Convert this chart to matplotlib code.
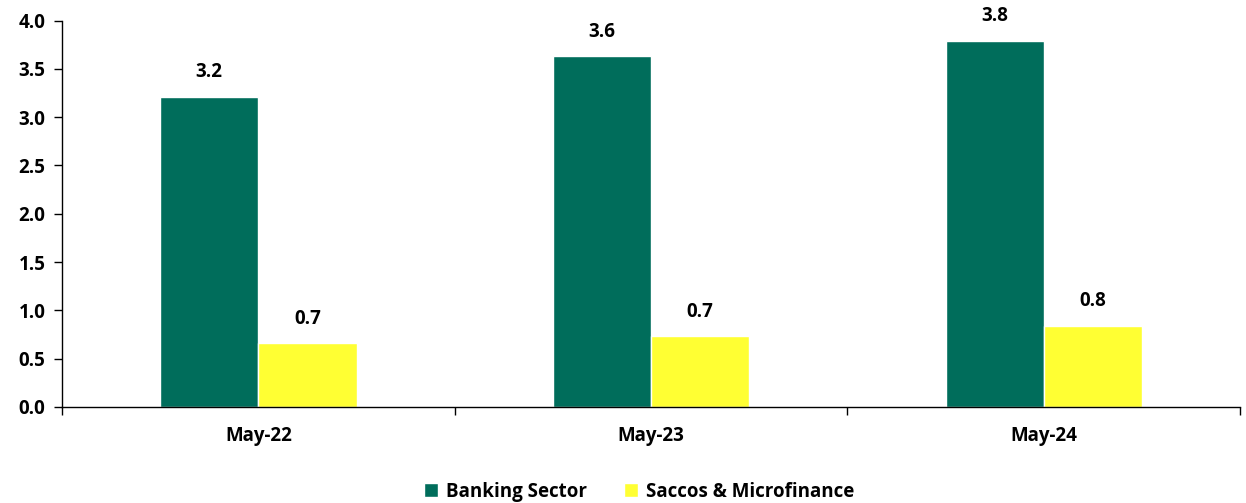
import numpy as np
import matplotlib.pyplot as plt
from matplotlib.ticker import FixedLocator, NullFormatter

plt.rcParams['font.family'] = ['Open Sans', 'DejaVu Sans']
plt.rcParams['font.weight'] = 'bold'

categories = ['May-22', 'May-23', 'May-24']
banking = [3.21, 3.63, 3.79]
saccos = [0.66, 0.73, 0.84]
series_names = ['Banking Sector', 'Saccos & Microfinance']
colors = ['#006D5B', '#FFFF33']

fig = plt.figure(figsize=(12.46, 5.03), dpi=100)
ax = fig.add_axes([0.0498, 0.191, 0.9454, 0.768])

x = np.arange(len(categories))
w = 0.25
b1 = ax.bar(x - w/2, banking, w, color=colors[0], edgecolor='white', linewidth=1, label=series_names[0])
b2 = ax.bar(x + w/2, saccos, w, color=colors[1], edgecolor='white', linewidth=1, label=series_names[1])

for bars in (b1, b2):
    for rect in bars:
        h = rect.get_height()
        ax.text(rect.get_x() + rect.get_width()/2, h + 0.15, f'{h:.1f}',
                ha='center', va='bottom', fontsize=13.5, fontweight='bold')

ax.set_xlim(-0.5, 2.5)
ax.set_ylim(0, 4.0)
ax.set_yticks(np.arange(0, 4.01, 0.5))
ax.set_yticklabels([f'{v:.1f}' for v in np.arange(0, 4.01, 0.5)], fontweight='bold')
ax.set_xticks(x)
ax.set_xticklabels(categories, fontweight='bold')
ax.xaxis.set_minor_locator(FixedLocator([-0.5, 0.5, 1.5, 2.5]))
ax.xaxis.set_minor_formatter(NullFormatter())
ax.tick_params(axis='x', which='major', length=0, pad=14, labelsize=13.5)
ax.tick_params(axis='x', which='minor', length=6, width=1, direction='out')
ax.tick_params(axis='y', length=6, width=1, direction='out', pad=6, labelsize=13.5)

for s in ['top', 'right']:
    ax.spines[s].set_visible(False)
ax.spines['left'].set_linewidth(1)
ax.spines['bottom'].set_linewidth(1)

ax.legend(loc='upper center', bbox_to_anchor=(0.49, -0.15), ncol=2, frameon=False,
          prop={'size': 13.5, 'weight': 'bold'}, handlelength=0.75, handleheight=0.75,
          columnspacing=2.0, handletextpad=0.4)

fig.savefig('out.png', dpi=100)
